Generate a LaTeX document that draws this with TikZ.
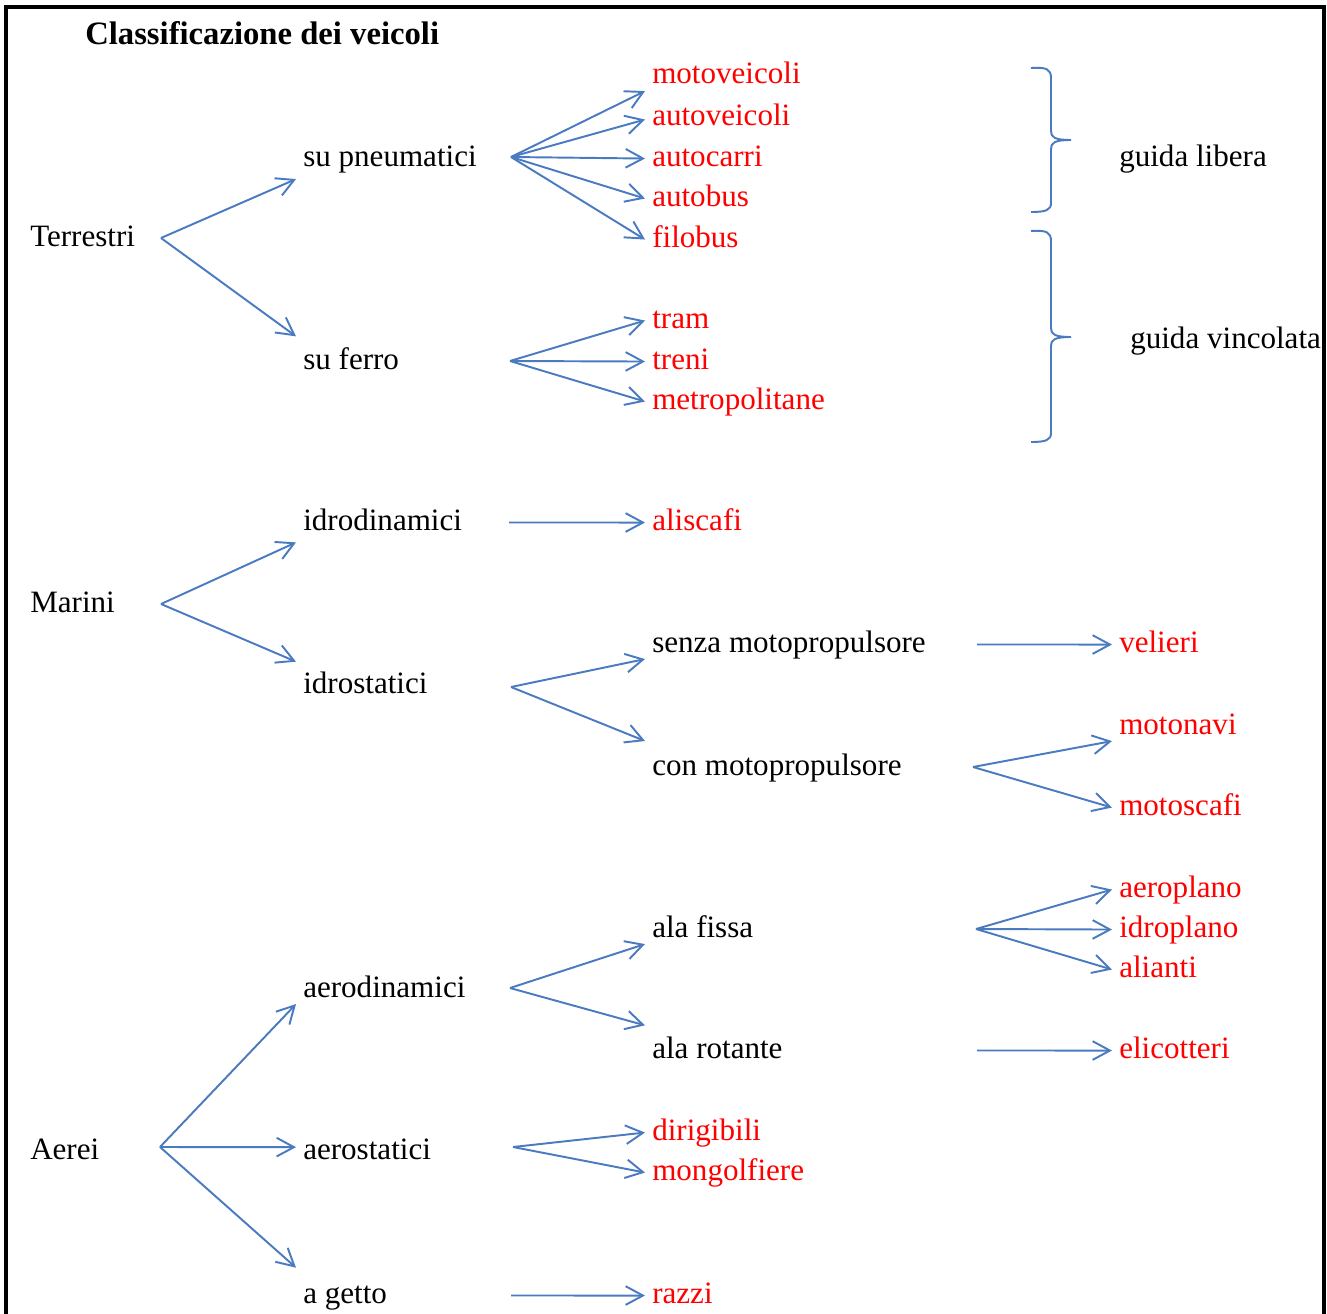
\documentclass[tikz,border=0pt]{standalone}
\usepackage{fontspec}
\setmainfont{Liberation Serif}
\usetikzlibrary{arrows.meta}
\definecolor{arrblue}{RGB}{74,122,192}
\definecolor{vred}{RGB}{255,0,0}
\begin{document}
\begin{tikzpicture}[x=0.75pt,y=-0.75pt,
  lbl/.style={anchor=base west,inner xsep=5.25pt,inner ysep=0pt,text height=16.3pt,text depth=5.1pt,font=\fontsize{23.3}{28}\selectfont},
  blk/.style={lbl,text=black},
  red/.style={lbl,text=vred},
  arr/.style={draw=arrblue,line width=1.45pt,-{Straight Barb[length=13pt,width=14pt,line width=1.45pt]}},
  brace/.style={draw=arrblue,line width=1.45pt}]
\useasboundingbox (0,0) rectangle (1327,1313);
% frame
\draw[line width=2.5pt] (6,1320) -- (6,7) -- (1324,7) -- (1324,1320);
% title
\node[anchor=base west,inner sep=0pt,font=\fontsize{24.5}{28}\selectfont\bfseries] (title) at (85,45) {Classificazione dei veicoli};
% level 0
\node[blk] (ter) at (23,246) {Terrestri};
\node[blk] (mar) at (23,612) {Marini};
\node[blk] (aer) at (23,1159) {Aerei};
% level 1
\node[blk] (sp) at (296,166) {su pneumatici};
\node[blk] (sf) at (296,369) {su ferro};
\node[blk] (idd) at (296,530) {idrodinamici};
\node[blk] (ids) at (296,693) {idrostatici};
\node[blk] (add) at (296,997) {aerodinamici};
\node[blk] (ast) at (296,1159) {aerostatici};
\node[blk] (ag) at (296,1303) {a getto};
% level 2 (column 652)
\node[red] (mv) at (645,84) {motoveicoli};
\node[red] (av) at (645,125) {autoveicoli};
\node[red] (ac) at (645,166) {autocarri};
\node[red] (ab) at (645,206) {autobus};
\node[red] (fb) at (645,247) {filobus};
\node[red] (tr) at (645,328) {tram};
\node[red] (tn) at (645,369) {treni};
\node[red] (mp) at (645,409) {metropolitane};
\node[red] (al) at (645,530) {aliscafi};
\node[blk] (smp) at (645,652) {senza motopropulsore};
\node[blk] (cmp) at (645,775) {con motopropulsore};
\node[blk] (af) at (645,937) {ala fissa};
\node[blk] (ar) at (645,1058) {ala rotante};
\node[red] (dg) at (645,1140) {dirigibili};
\node[red] (mg) at (645,1180) {mongolfiere};
\node[red] (rz) at (645,1303) {razzi};
% level 3 (column 1119)
\node[red] (vl) at (1112,652) {velieri};
\node[red] (mn) at (1112,734) {motonavi};
\node[red] (ms) at (1112,815) {motoscafi};
\node[red] (ap) at (1112,897) {aeroplano};
\node[red] (ip) at (1112,937) {idroplano};
\node[red] (an) at (1112,977) {alianti};
\node[red] (el) at (1112,1058) {elicotteri};
% brace labels
\node[blk] (gl) at (1112,166) {guida libera};
\node[blk] (gv) at (1123,348) {guida vincolata};
% fan origins
\coordinate (tO) at (161,238);
\coordinate (mO) at (161,604);
\coordinate (aO) at (160,1147);
\coordinate (spO) at (511,157);
\coordinate (sfO) at (510,361);
\coordinate (idO) at (509,522.5);
\coordinate (isO) at (511,687);
\coordinate (smO) at (977,644.5);
\coordinate (cmO) at (973,767);
\coordinate (adO) at (510,988);
\coordinate (afO) at (976,929);
\coordinate (arO) at (977,1050.5);
\coordinate (asO) at (513,1147);
\coordinate (agO) at (511,1295.5);
% arrows
\draw[arr] (tO) -- ([yshift=-4.5pt]sp.south west);
\draw[arr] (tO) -- ([yshift=8pt]sf.north west);
\draw[arr] (spO) -- (mv.south west);
\draw[arr] (spO) -- ([yshift=-1.5pt]av.west);
\draw[arr] (spO) -- (ac.west);
\draw[arr] (spO) -- (ab.west);
\draw[arr] (spO) -- (fb.west);
\draw[arr] (sfO) -- (tr.west);
\draw[arr] (sfO) -- (tn.west);
\draw[arr] (sfO) -- (mp.west);
\draw[arr] (mO) -- ([yshift=-4pt]idd.south west);
\draw[arr] (mO) -- ([yshift=7pt]ids.north west);
\draw[arr] (idO) -- (al.west);
\draw[arr] (isO) -- (smp.south west);
\draw[arr] (isO) -- ([yshift=9pt]cmp.north west);
\draw[arr] (smO) -- (vl.west);
\draw[arr] (cmO) -- (mn.south west);
\draw[arr] (cmO) -- (ms.west);
\draw[arr] (aO) -- (add.south west);
\draw[arr] (aO) -- ([yshift=3.3pt]ast.west);
\draw[arr] (aO) -- ([yshift=10pt]ag.north west);
\draw[arr] (adO) -- (af.south west);
\draw[arr] (adO) -- ([yshift=8pt]ar.north west);
\draw[arr] (afO) -- (ap.west);
\draw[arr] (afO) -- (ip.west);
\draw[arr] (afO) -- (an.west);
\draw[arr] (arO) -- (el.west);
\draw[arr] (asO) -- (dg.west);
\draw[arr] (asO) -- (mg.west);
\draw[arr] (agO) -- (rz.west);
% braces
\draw[brace] (1031,68) .. controls (1046,67) and (1051,69) .. (1051,78) -- (1051,131)
  .. controls (1051,137) and (1054,140) .. (1071,140)
  .. controls (1054,140) and (1051,143) .. (1051,149) -- (1051,203)
  .. controls (1051,210) and (1046,212) .. (1031,212);
\draw[brace] (1031,231) .. controls (1046,230) and (1051,232) .. (1051,241) -- (1051,328)
  .. controls (1051,334) and (1054,337) .. (1071,337)
  .. controls (1054,337) and (1051,340) .. (1051,346) -- (1051,433)
  .. controls (1051,440) and (1046,442) .. (1031,442);
\end{tikzpicture}
\end{document}
